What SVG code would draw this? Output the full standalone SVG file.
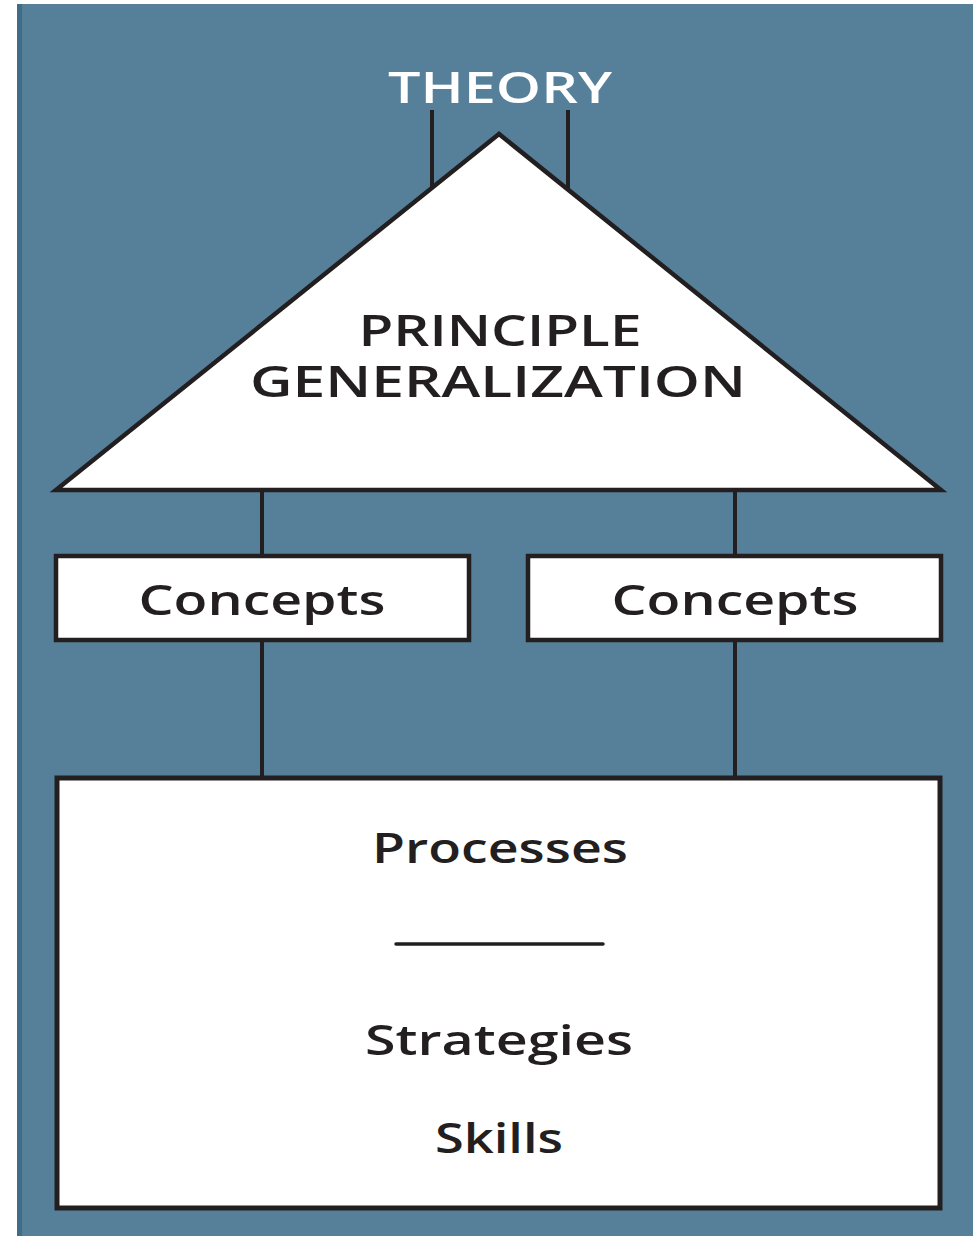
<svg xmlns="http://www.w3.org/2000/svg" width="973" height="1236" viewBox="0 0 973 1236">
<style>
.shape{fill:#ffffff;stroke:#231f20;stroke-width:4.5;stroke-linejoin:miter}
.conn{stroke:#231f20;stroke-width:4;fill:none}
.lbl{font-family:"Open Sans","Liberation Sans",sans-serif;font-weight:600;fill:#231f20;text-anchor:middle}
</style>
<rect x="0" y="0" width="973" height="1236" fill="#ffffff"/>
<rect x="17" y="4" width="956" height="1232" fill="#56809a"/>
<rect x="17" y="4" width="5" height="1232" fill="#3f6d87"/>
<g id="connectors">
<line class="conn" x1="432" y1="110" x2="432" y2="190"/>
<line class="conn" x1="568" y1="110" x2="568" y2="191"/>
<line class="conn" x1="262" y1="490" x2="262" y2="556"/>
<line class="conn" x1="735" y1="490" x2="735" y2="556"/>
<line class="conn" x1="262" y1="640" x2="262" y2="778"/>
<line class="conn" x1="735" y1="640" x2="735" y2="778"/>
</g>
<g id="theory">
<text class="lbl" x="500" y="103" font-size="43" style="fill:#ffffff" textLength="224" lengthAdjust="spacingAndGlyphs">THEORY</text>
</g>
<g id="principle">
<polygon class="shape" points="499,134 56,490 941,490"/>
<text class="lbl" x="500" y="346" font-size="43" textLength="283" lengthAdjust="spacingAndGlyphs">PRINCIPLE</text>
<text class="lbl" x="498" y="397" font-size="44" textLength="496" lengthAdjust="spacingAndGlyphs">GENERALIZATION</text>
</g>
<g id="concepts-left">
<rect class="shape" x="56" y="556" width="413" height="84"/>
<text class="lbl" x="262" y="615" font-size="42" textLength="247" lengthAdjust="spacingAndGlyphs">Concepts</text>
</g>
<g id="concepts-right">
<rect class="shape" x="528" y="556" width="413" height="84"/>
<text class="lbl" x="735" y="615" font-size="42" textLength="247" lengthAdjust="spacingAndGlyphs">Concepts</text>
</g>
<g id="processes">
<rect class="shape" x="57" y="778" width="883" height="430" style="stroke-width:5"/>
<text class="lbl" x="500" y="863" font-size="42" textLength="256" lengthAdjust="spacingAndGlyphs">Processes</text>
<line x1="396" y1="944" x2="603" y2="944" stroke="#231f20" stroke-width="3.5" stroke-linecap="round"/>
<text class="lbl" x="499" y="1055" font-size="42" textLength="268" lengthAdjust="spacingAndGlyphs">Strategies</text>
<text class="lbl" x="499" y="1153" font-size="42" textLength="128" lengthAdjust="spacingAndGlyphs">Skills</text>
</g>
</svg>
